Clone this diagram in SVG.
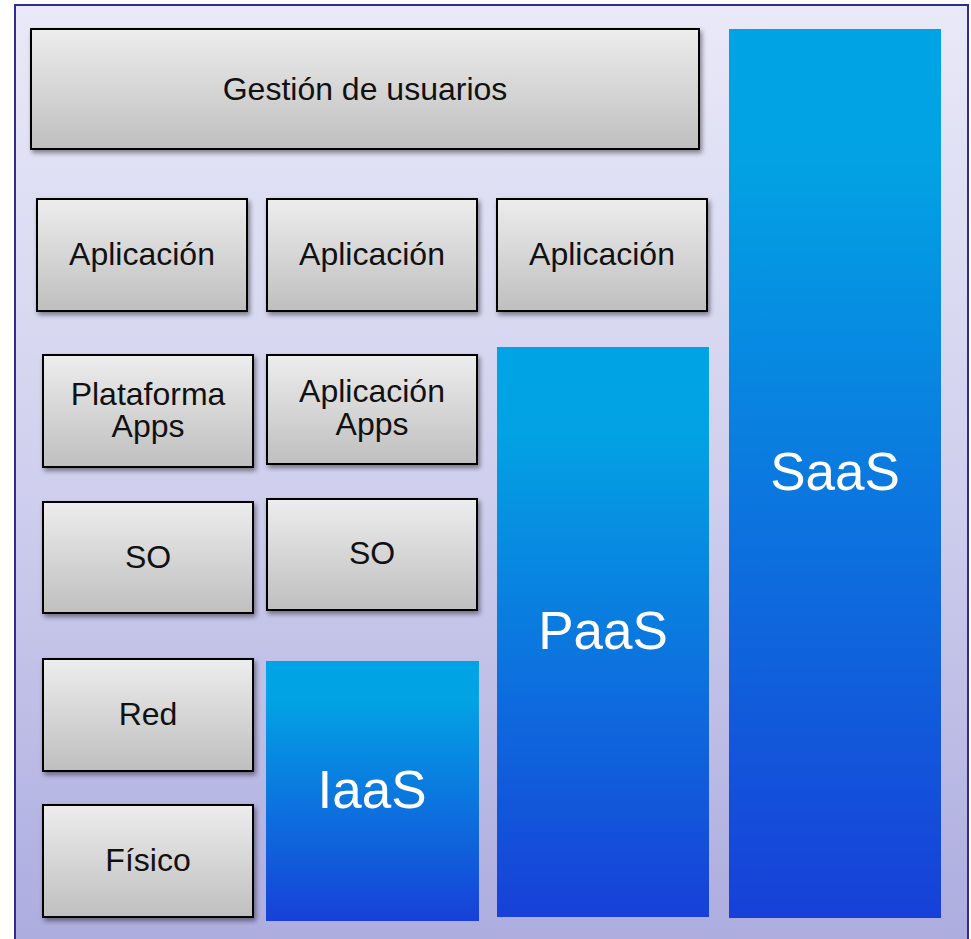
<svg xmlns="http://www.w3.org/2000/svg" width="971" height="939" viewBox="0 0 971 939">
<defs>
<linearGradient id="bg" x1="0" y1="0" x2="0" y2="1">
<stop offset="0" stop-color="#e9e9f8"/>
<stop offset="0.5" stop-color="#d0d0ee"/>
<stop offset="1" stop-color="#acacdf"/>
</linearGradient>
<linearGradient id="box" x1="0" y1="0" x2="0" y2="1">
<stop offset="0" stop-color="#ededed"/>
<stop offset="1" stop-color="#bfbfbf"/>
</linearGradient>
<linearGradient id="blue" x1="0" y1="0" x2="0" y2="1">
<stop offset="0" stop-color="#00a4e5"/>
<stop offset="0.15" stop-color="#02a2e4"/>
<stop offset="1" stop-color="#1740d8"/>
</linearGradient>
<filter id="sh" x="-10%" y="-10%" width="125%" height="130%">
<feGaussianBlur in="SourceAlpha" stdDeviation="2.5"/>
<feOffset dx="2" dy="3" result="b"/>
<feComponentTransfer><feFuncA type="linear" slope="0.45"/></feComponentTransfer>
<feMerge><feMergeNode/><feMergeNode in="SourceGraphic"/></feMerge>
</filter>
</defs>
<style>
.box{fill:url(#box);stroke:#000;stroke-width:2;filter:url(#sh)}
.bl{fill:url(#blue)}
.t{font-family:"Liberation Sans",Arial,sans-serif;font-size:32px;fill:#111;text-anchor:middle}
.w{font-family:"Liberation Sans",Arial,sans-serif;font-size:53px;fill:#fff;text-anchor:middle}
</style>
<rect width="971" height="939" fill="#fff"/>
<rect id="frame" x="15" y="5" width="953" height="940" fill="url(#bg)" stroke="#2e2e8f" stroke-width="2"/>
<g id="gestion"><rect class="box" x="31" y="29" width="668" height="120"/><text class="t" x="365" y="100">Gestión de usuarios</text></g>
<g id="app1"><rect class="box" x="37" y="199" width="210" height="112"/><text class="t" x="142" y="265">Aplicación</text></g>
<g id="app2"><rect class="box" x="267" y="199" width="210" height="112"/><text class="t" x="372" y="265">Aplicación</text></g>
<g id="app3"><rect class="box" x="497" y="199" width="210" height="112"/><text class="t" x="602" y="265">Aplicación</text></g>
<g id="plataforma"><rect class="box" x="43" y="355" width="210" height="112"/><text class="t" x="148" y="405">Plataforma</text><text class="t" x="148" y="437">Apps</text></g>
<g id="aplicacionapps"><rect class="box" x="267" y="355" width="210" height="109"/><text class="t" x="372" y="402">Aplicación</text><text class="t" x="372" y="435">Apps</text></g>
<g id="so1"><rect class="box" x="43" y="502" width="210" height="111"/><text class="t" x="148" y="568">SO</text></g>
<g id="so2"><rect class="box" x="267" y="499" width="210" height="111"/><text class="t" x="372" y="564">SO</text></g>
<g id="red"><rect class="box" x="43" y="659" width="210" height="112"/><text class="t" x="148" y="725">Red</text></g>
<g id="fisico"><rect class="box" x="43" y="805" width="210" height="112"/><text class="t" x="148" y="871">Físico</text></g>
<g id="iaas"><rect class="bl" x="266" y="661" width="213" height="260"/><text class="w" x="372" y="808">IaaS</text></g>
<g id="paas"><rect class="bl" x="497" y="347" width="212" height="570"/><text class="w" x="603" y="649">PaaS</text></g>
<g id="saas"><rect class="bl" x="729" y="29" width="212" height="889"/><text class="w" x="835" y="490">SaaS</text></g>
<g id="connectors"/>
</svg>
